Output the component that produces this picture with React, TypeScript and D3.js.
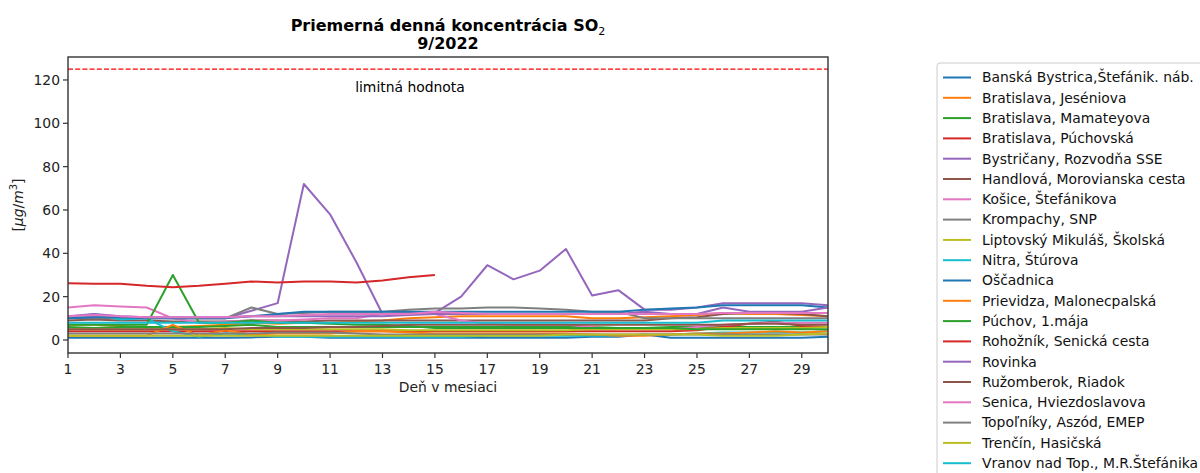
import React from "react";
import * as d3 from "d3";

const days = d3.range(1, 31);

const stations = [
  "Banská Bystrica,Štefánik. náb.",
  "Bratislava, Jeséniova",
  "Bratislava, Mamateyova",
  "Bratislava, Púchovská",
  "Bystričany, Rozvodňa SSE",
  "Handlová, Morovianska cesta",
  "Košice, Štefánikova",
  "Krompachy, SNP",
  "Liptovský Mikuláš, Školská",
  "Nitra, Štúrova",
  "Oščadnica",
  "Prievidza, Malonecpalská",
  "Púchov, 1.mája",
  "Rohožník, Senická cesta",
  "Rovinka",
  "Ružomberok, Riadok",
  "Senica, Hviezdoslavova",
  "Topoľníky, Aszód, EMEP",
  "Trenčín, Hasičská",
  "Vranov nad Top., M.R.Štefánika",
];

const colors = [
  "#1f77b4", "#ff7f0e", "#2ca02c", "#d62728", "#9467bd",
  "#8c564b", "#e377c2", "#7f7f7f", "#bcbd22", "#17becf",
];

const N = null;
const sBanska = [1, 1, 1, 1, 1.2, 1, 1, 1.2, 1.5, 1.5, 1, 1, 1, 1, 1, 1, 1, 1, 1, 1, 1.5, 1.5, 2.5, 1, 1, 1, 1, 1, 1, 1.5];
const sJeseniova = [7, 7, 6.5, 6, 6, 6.5, 7, 8, 7.5, 8, 8, 8.5, 9, 10, 10.5, 11, 11, 11, 11, 11, 10, 10, 10.5, 11, 11.5, 12.5, 12, 12, 11.5, 11];
const sMamateyova = [6, 5.5, 6, 6, 6, 6, 6.5, 7, 6, 6, 6, 6, 6, 6, 6, 6, 6, 6, 6, 6, 6, 5.5, 5.5, 6, 6, 6, 6, 6, 6, 6];
const sPuchovska = [4, 4, 4, 4, 4, 4, 4, 4, 4, 4, 4, 4, 4, 4, 4, 4, 4, 4, 4, 4, 4, 4, 4, 4, 4.5, 6, 7.5, 8.5, 6.5, 6];
const sBystricany = [11, 11, 10.5, 10.5, 10, 10, 10, 13.5, 17, 72, 58, 36, 12, 12, 12.5, 20, 34.5, 28, 32, 42, 20.5, 23, 14, 14, 15, 17, 17, 17, 17, 16];
const sHandlova = [9, 9.5, 9, 9, 8.5, 8.5, 8.5, 9, 9, 8.5, 9, 9, 9, 9, 9, 9, 9, 9, 9, 9, 9, 9, 9, 10, 10.5, 12, 12.5, 12.5, 12, 11];
const sKosice = [15, 16, 15.5, 15, 10, 8, 8.5, 9, 9, 9.5, 10, 10, 12, 13, 12, 9, 7.5, 7, 7, 7, 6, 5, 5, 5, 6, 7, 7.5, 8, 8, 8];
const sKrompachy = [10, 10, 10, 10, 10, 10, 10, 15, 12, 12.5, 13, 13, 13, 14, 14.5, 14.5, 15, 15, 14.5, 14, 13, 13, 10, 10, 10, 10, 10, 10, 10, 10];
const sLiptov = [5, 5, 5, 5, 5, 5, 5.5, 5, 5, 5, 5, 5, 5, 4.5, 4.5, 4.5, 4.5, 4.5, 4.5, 4.5, 5, 5, 5, 5, 5, 5.5, 5.5, 5.5, 5.5, 6];
const sNitra = [10, 12, 9.5, 10, 4, 1.5, 3, 2.5, 1.5, 1.5, 1.5, 1.5, 1.5, 1.5, 1.5, 1.5, 2, 2, 2, 2, 2, 2, 2.5, 2.5, 3, 3.5, 3.5, 3.5, 3.5, 4];
const sOscadnica = [10, 10.5, 10.5, 10, 10, 10, 10, 11, 12, 13, 13, 13, 13, 13, 13, 13, 13, 13, 13, 13, 13, 13, 14, 14.5, 15, 16, 16, 16, 16, 15];
const sPrievidza = [2, 2, 2, 2, 7, 2, 4.5, 2.5, 3, 3, 3, 4, 4, 3.5, 3, 3, 3, 3, 3, 3, 2.5, 2, 2, 2.5, 3, 3, 3.5, 4, 3.5, 4];
const sPuchov = [7, 7, 7, 7, 30, 8, 8, 9, 8, 8, 7.5, 7, 7, 6.5, 5.5, 5.5, 5.5, 5.5, 5.5, 5.5, 5.5, 5.5, 5.5, 5.5, 5, 5, 5, 5, 5, 5];
const sRohoznik = [26.2, 26, 26, 25, 24.3, 25, 26, 27, 26.5, 27, 27, 26.5, 27.5, 29, 30, N, N, N, N, N, N, N, N, N, N, N, N, N, N, N];
const sRovinka = [11, 12, 11, 10.5, 10.5, 10.5, 10.5, 11, 11, 11, 11, 11, 11, 11.5, 12, 12, 12, 12, 12, 12, 12, 12, 13, 12, 12, 15, 13, 13, 13, 15];
const sRuzomberok = [5, 5, 5, 5, 5, 5, 5, 5.5, 5.5, 5.5, 6, 6, 6.5, 7, 7, 7, 7, 7, 7, 7, 7, 7, 7, 7, 7, 7, 7.5, 7.5, 7, 7];
const sSenica = [11, 11.5, 11, 10.5, 10.5, 10.5, 10.5, 11, 11, 11.5, 12, 12, 12, 12, 13, 12.5, 12, 12, 12, 12, 12, 12, 12, 12, 12, 12.5, 12.5, 12.5, 12.5, 12.5];
const sTopolniky = [3, 3, 3, 3, 3, 3, 3, 3, 3.5, 3.5, 3.5, 3, 2.5, 2.5, 2.5, 2.5, 2.5, 2.5, 2.5, 2.5, 2.5, 2.5, 2.5, 2.5, 2.5, 2.5, 2.5, 2.5, 2.5, 2.5];
const sTrencin = [2, 2, 2, 2, 2, 2, 2, 2, 2, 2, 2, 2, 2, 2, 2, 2, 2, 2, 2, 2.5, 2.5, 2.5, 2.5, 2.5, 2.5, 2, 2, 2, 2.5, 3];
const sVranov = [8, 8, 8, 8, 8, 8, 8, 8, 8, 8, 8, 8, 8, 8, 8, 8, 8, 8, 8, 8, 8, 8, 8, 8, 8, 9, 9, 9, 9, 9];

const series = [
  sBanska, sJeseniova, sMamateyova, sPuchovska, sBystricany,
  sHandlova, sKosice, sKrompachy, sLiptov, sNitra,
  sOscadnica, sPrievidza, sPuchov, sRohoznik, sRovinka,
  sRuzomberok, sSenica, sTopolniky, sTrencin, sVranov,
];

const limitValue = 125;
const yTicks = [0, 20, 40, 60, 80, 100, 120];
const xTicks = [1, 3, 5, 7, 9, 11, 13, 15, 17, 19, 21, 23, 25, 27, 29];

const FONT = "'DejaVu Sans', sans-serif";

export default function App() {
  const left = 68, right = 828, top = 57, bottom = 353;
  const x = d3.scaleLinear().domain([1, 30]).range([left, right]);
  const y = d3.scaleLinear().domain([-6, 130.6]).range([bottom, top]);
  const line = d3
    .line<number | null>()
    .defined((d) => d !== null)
    .x((_, i) => x(days[i]))
    .y((d) => y(d as number));

  const legX = 937, legY = 63, legStep = 20.3;

  return (
    <svg
      width={1200}
      height={473}
      style={{ position: "absolute", left: 0, top: 0, background: "#fff" }}
      fontFamily={FONT}
    >
      <rect x={0} y={0} width={1200} height={473} fill="#fff" />
      {/* title */}
      <text x={448} y={31} textAnchor="middle" fontSize={16} fontWeight="bold" fill="#000">
        Priemerná denná koncentrácia SO
        <tspan fontWeight="normal" fontSize={11} dy={4}>2</tspan>
      </text>
      <text x={448} y={49} textAnchor="middle" fontSize={16} fontWeight="bold" fill="#000">
        9/2022
      </text>

      <defs>
        <clipPath id="plotclip">
          <rect x={left} y={top} width={right - left} height={bottom - top} />
        </clipPath>
      </defs>

      <g clipPath="url(#plotclip)">
        {series.map((s, i) => (
          <path
            key={i}
            d={line(s) || ""}
            fill="none"
            stroke={colors[i % 10]}
            strokeWidth={2}
            strokeLinejoin="round"
          />
        ))}
        <line
          x1={left}
          x2={right}
          y1={y(limitValue)}
          y2={y(limitValue)}
          stroke="#ff0000"
          strokeWidth={1.2}
          strokeDasharray="5,2.2"
        />
      </g>
      <text x={410} y={92} textAnchor="middle" fontSize={13.9} fill="#000">
        limitná hodnota
      </text>

      {/* axes frame */}
      <rect x={left} y={top} width={right - left} height={bottom - top} fill="none" stroke="#333" strokeWidth={1.4} />

      {yTicks.map((t) => (
        <g key={"y" + t}>
          <line x1={left - 5} x2={left} y1={y(t)} y2={y(t)} stroke="#333" strokeWidth={1.2} />
          <text x={left - 8} y={y(t)} dy="0.35em" textAnchor="end" fontSize={13.9} fill="#222">
            {t}
          </text>
        </g>
      ))}
      {xTicks.map((t) => (
        <g key={"x" + t}>
          <line x1={x(t)} x2={x(t)} y1={bottom} y2={bottom + 5} stroke="#333" strokeWidth={1.2} />
          <text x={x(t)} y={bottom + 21} textAnchor="middle" fontSize={13.9} fill="#222">
            {t}
          </text>
        </g>
      ))}
      <text x={448} y={392} textAnchor="middle" fontSize={13.9} fill="#222">
        Deň v mesiaci
      </text>
      <text
        transform={`translate(23, ${(top + bottom) / 2}) rotate(-90)`}
        textAnchor="middle"
        fontSize={13.9}
        fill="#222"
      >
        <tspan>[</tspan>
        <tspan fontStyle="italic">μg</tspan>
        <tspan>/</tspan>
        <tspan fontStyle="italic">m</tspan>
        <tspan fontSize={10} dy={-6}>3</tspan>
        <tspan dy={6}>]</tspan>
      </text>

      {/* legend */}
      <rect x={legX} y={legY} width={280} height={430} rx={3} fill="#fff" stroke="#cccccc" strokeWidth={1} />
      {stations.map((name, i) => {
        const cy = legY + 14.5 + i * legStep;
        return (
          <g key={name}>
            <line x1={943} x2={971} y1={cy} y2={cy} stroke={colors[i % 10]} strokeWidth={2} />
            <text x={982} y={cy} dy="0.35em" fontSize={13.9} fill="#111">
              {name}
            </text>
          </g>
        );
      })}
    </svg>
  );
}
